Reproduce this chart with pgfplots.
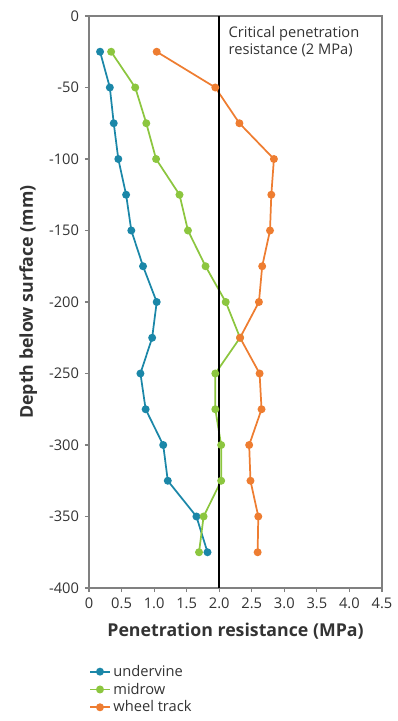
\documentclass[border=0pt]{standalone}
\usepackage{fontspec}
\setmainfont{Open Sans}
\usepackage{pgfplots}
\pgfplotsset{compat=1.18}
\definecolor{cblue}{HTML}{1B87A8}
\definecolor{cgreen}{HTML}{8CC63F}
\definecolor{corange}{HTML}{EE7D31}
\definecolor{axgray}{HTML}{808080}
\definecolor{txt}{HTML}{333333}
\begin{document}
\begin{tikzpicture}
\begin{axis}[
  scale only axis,
  width=219.75pt, height=429pt,
  xmin=0, xmax=4.5, ymin=-400, ymax=0,
  xtick={0,0.5,...,4.5},
  xticklabels={0,0.5,1.0,1.5,2.0,2.5,3.0,3.5,4.0,4.5},
  ytick={-400,-350,...,0},
  tick align=outside,
  tick pos=left,
  major tick length=3pt,
  axis line style={axgray, line width=0.8pt},
  tick style={axgray, line width=0.8pt},
  every tick label/.append style={font=\fontsize{11}{12}\selectfont, text=txt},
  /pgf/number format/assume math mode=true,
  yticklabel style={xshift=-1pt},
  xticklabel style={yshift=-1pt},
  xlabel={\textbf{Penetration resistance (MPa)}},
  ylabel={\textbf{Depth below surface (mm)}},
  label style={font=\fontsize{13.3}{15}\selectfont, text=txt},
  xlabel style={yshift=-4pt},
  ylabel style={yshift=2pt},
  legend style={draw=none, fill=none, at={(0,-0.125)}, anchor=north west,
    font=\fontsize{11}{12}\selectfont, text=txt, row sep=-0.5pt,
    inner xsep=0pt},
  legend cell align=left,
  legend image code/.code={\draw[mark repeat=2,mark phase=2,#1] plot coordinates {(0cm,0cm) (0.26cm,0cm) (0.52cm,0cm)};},
  legend image post style={line width=1.3pt},
  every axis plot/.append style={line width=1.3pt, mark=*, mark size=2.3pt},
  clip=false,
]
\addplot[cblue, mark options={fill=cblue}] coordinates {
(0.17,-25) (0.32,-50) (0.38,-75) (0.45,-100) (0.57,-125) (0.65,-150) (0.83,-175) (1.04,-200) (0.97,-225) (0.79,-250) (0.87,-275) (1.14,-300) (1.21,-325) (1.65,-350) (1.82,-375)};
\addlegendentry{undervine}
\addplot[cgreen, mark options={fill=cgreen}] coordinates {
(0.34,-25) (0.71,-50) (0.88,-75) (1.03,-100) (1.39,-125) (1.52,-150) (1.79,-175) (2.10,-200) (2.32,-225) (1.94,-250) (1.94,-275) (2.03,-300) (2.03,-325) (1.76,-350) (1.69,-375)};
\addlegendentry{midrow}
\addplot[corange, mark options={fill=corange}] coordinates {
(1.04,-25) (1.94,-50) (2.31,-75) (2.84,-100) (2.80,-125) (2.78,-150) (2.66,-175) (2.61,-200) (2.32,-225) (2.62,-250) (2.65,-275) (2.46,-300) (2.48,-325) (2.60,-350) (2.59,-375)};
\addlegendentry{wheel track}
\draw[black, line width=1.5pt] (axis cs:2,0) -- (axis cs:2,-400);
\node[anchor=north west, align=left, font=\fontsize{11}{12.8}\selectfont, text=txt, inner sep=0pt]
  at (axis cs:2.14,-7) {Critical penetration\\resistance (2 MPa)};
\end{axis}
\pgfresetboundingbox
\path[use as bounding box] (-66.75pt,-99.75pt) rectangle (231.75pt,441pt);
\end{tikzpicture}
\end{document}
